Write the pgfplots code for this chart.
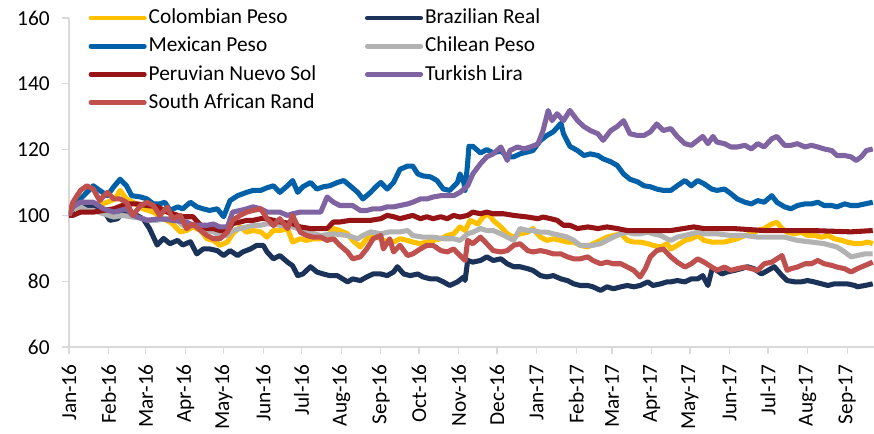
\documentclass[border=0pt]{standalone}
\usepackage{pgfplots}
\pgfplotsset{compat=1.18}
\usepackage{fontspec}
\setmainfont{Carlito}
\definecolor{cop}{HTML}{FFC000}
\definecolor{brl}{HTML}{1B3358}
\definecolor{mxn}{HTML}{0061A8}
\definecolor{clp}{HTML}{B2B2B2}
\definecolor{pen}{HTML}{961415}
\definecolor{try}{HTML}{8064A2}
\definecolor{zar}{HTML}{C0504D}
\definecolor{axgray}{HTML}{D9D9D9}
\begin{document}
\begin{tikzpicture}
\useasboundingbox (-51.75pt,-64.5pt) rectangle (603.75pt,260.25pt);
\begin{axis}[
  at={(0,0)}, anchor=south west,
  scale only axis, width=603.75pt, height=246.75pt,
  xmin=0, xmax=630, ymin=60, ymax=160,
  axis x line*=bottom, axis y line*=left,
  axis line style={axgray, line width=1pt, -},
  tick style={axgray, line width=1pt},
  tick align=outside, major tick length=5pt,
  xtick={0,31,60,91,121,152,182,213,244,274,305,335,366,397,425,456,486,517,547,578,609},
  xticklabels={Jan-16,Feb-16,Mar-16,Apr-16,May-16,Jun-16,Jul-16,Aug-16,Sep-16,Oct-16,Nov-16,Dec-16,Jan-17,Feb-17,Mar-17,Apr-17,May-17,Jun-17,Jul-17,Aug-17,Sep-17},
  ytick={60,80,100,120,140,160},
  /pgf/number format/assume math mode=true,
  tick label style={font=\fontsize{16}{19}\selectfont, text=black},
  xticklabel style={rotate=90, anchor=east, xshift=-4.5pt},
  yticklabel style={xshift=-6pt},
  legend columns=2,
  legend cell align=left,
  legend image code/.code={\draw[#1, line width=3.6pt, line cap=round] (0pt,0pt) -- (40pt,0pt);},
  legend style={draw=none, fill=none, inner sep=0pt,
    at={(0.024,1.036)}, anchor=north west,
    font=\fontsize{16}{19}\selectfont,
    nodes={inner sep=1.5pt, text height=11.5pt, text depth=3pt},
    row sep=3.6pt,
    /tikz/every even column/.append style={column sep=35pt}},
  every axis plot/.append style={line width=3.8pt, line join=round, no marks},
]
\addplot[cop] coordinates {(0,100)(3,102)(14,102.5)(22,103)(30,104)(36,105)(40,107.6)(45,105)(50,104)(58,102)(66,101)(74,99)(81,97.5)(87,95)(92,95.4)(97,96.5)(103,95.4)(108,92.9)(113,92.4)(118,90.9)(124,91.9)(128,94.4)(134,96.5)(139,94.9)(144,95.4)(150,95)(155,93.4)(160,95.4)(165,95.4)(171,96)(175,91.9)(181,92.9)(186,92.4)(191,92.9)(197,92.9)(202,93.4)(207,96)(212,95.4)(218,94.4)(222,92.4)(228,90.4)(233,92.9)(238,93.9)(244,92.9)(249,91.9)(254,91.9)(259,92.9)(265,92.4)(269,91.9)(275,91.4)(280,91.9)(285,92.4)(291,92.9)(296,93.9)(301,94.4)(306,96.5)(310,95.4)(314,98.5)(320,97.4)(324,99.5)(328,100.5)(332,98.5)(338,96.5)(343,94.4)(348,93.4)(353,94.4)(359,94.9)(363,96)(369,93.4)(374,92.4)(379,92.9)(385,92.4)(390,91.9)(395,91.9)(400,90.9)(406,90.4)(410,91.4)(416,92.4)(421,93.4)(426,93.9)(432,94.4)(437,92.4)(442,91.9)(447,91.9)(453,91.4)(457,90.9)(463,90.4)(468,91.4)(471,89.8)(476,90.9)(482,92.4)(487,92.9)(492,93.9)(497,92.4)(503,91.9)(507,91.9)(513,91.9)(518,92.4)(523,92.9)(529,93.9)(534,94.4)(539,95.4)(544,96)(550,97.4)(554,97.9)(558,96)(562,94.9)(568,94.4)(573,94.9)(578,93.9)(583,93.9)(589,93.4)(594,93.9)(599,92.9)(605,92.4)(609,91.9)(615,91.4)(620,91.4)(625,91.9)(629,91.4)};
\addlegendentry{Colombian Peso}
\addplot[brl] coordinates {(0,100)(3,102)(9,103.5)(14,103)(19,102.6)(27,101.5)(32,98.5)(38,99)(42,101)(48,101)(53,100)(58,99)(63,96)(69,91)(74,93)(79,91.4)(85,92.4)(89,91)(95,92)(100,88.3)(105,89.8)(110,89.8)(116,89.3)(121,87.8)(126,89.3)(132,87.8)(136,88.9)(142,89.8)(147,90.9)(152,90.9)(155,88.9)(160,86.8)(165,87.8)(171,85.8)(175,84.7)(179,81.7)(183,82.2)(189,84.4)(194,82.8)(199,82.2)(204,81.7)(210,81.7)(218,79.8)(222,80.7)(228,80.2)(233,81.3)(238,82.2)(244,82.2)(249,81.7)(254,82.8)(257,84.4)(262,82.2)(267,81.7)(273,82.2)(277,81.3)(283,80.7)(288,80.7)(293,79.8)(298,78.7)(304,79.8)(309,81.3)(310,80.2)(312,86.3)(316,85.8)(322,86.3)(327,87.4)(332,86.3)(338,86.8)(343,85.3)(348,84.4)(353,84.4)(359,83.8)(363,83.3)(369,81.7)(374,81.3)(379,81.7)(385,80.7)(390,80.2)(395,79.2)(400,78.7)(406,78.7)(410,78.3)(416,77.2)(421,78.3)(426,77.7)(432,78.3)(437,78.7)(442,78.3)(447,78.7)(453,79.8)(457,78.7)(463,79.2)(468,79.8)(471,79.8)(476,80.2)(482,79.8)(487,80.7)(492,80.7)(496,81.7)(500,78.7)(503,83.3)(505,83.8)(511,82.2)(515,82.8)(521,83.3)(526,83.8)(531,84.4)(536,83.8)(542,82.2)(547,83.3)(552,84.4)(558,81.7)(562,80.2)(568,79.8)(573,79.8)(578,80.2)(583,79.8)(589,79.2)(594,78.7)(599,79.2)(605,79.2)(609,79.2)(615,78.7)(617,78.3)(623,78.7)(629,79.2)};
\addlegendentry{Brazilian Real}
\addplot[mxn] coordinates {(0,100)(9,105)(19,109)(24,107.6)(30,106)(35,108.7)(40,111)(45,109)(49,106)(56,105.6)(61,105)(66,103.5)(71,103.5)(75,104)(79,101.5)(85,102.6)(89,102)(95,104)(100,102.6)(105,102)(110,101.5)(116,102)(121,99.6)(126,104.5)(132,106)(139,107)(144,107.6)(150,107.6)(155,108.4)(160,109)(165,107)(171,109)(175,110.6)(179,107)(183,108.7)(189,110)(194,108)(199,108.7)(204,109)(210,110)(215,110.6)(220,109)(226,107)(230,105)(236,107)(241,109)(244,110)(249,108)(254,110)(259,114)(265,115)(269,115)(273,112.6)(277,112)(283,111.7)(288,110.6)(293,108)(298,107.6)(304,110)(306,112.6)(309,110)(310,107.6)(312,116)(313,121)(316,121)(322,119)(327,120)(332,119)(338,119.6)(343,117.8)(348,117.8)(353,118.7)(359,119.3)(363,119.7)(369,122.8)(374,124.3)(379,125.4)(385,128)(387,124.8)(392,121)(398,119.7)(403,118.2)(408,118.7)(414,118.2)(418,117.2)(424,116.3)(429,115.2)(434,112.6)(439,111)(445,110.2)(450,109)(455,108.7)(460,108)(465,107.6)(471,107.6)(476,109)(482,110.6)(487,109)(492,110.6)(497,109.6)(503,108)(507,107.6)(513,108)(518,106.6)(523,105)(529,104)(534,103.5)(539,104.5)(544,104)(550,106)(554,104)(560,102.6)(565,102)(570,103)(576,103.5)(581,103.5)(586,104)(591,103)(597,103)(601,102.6)(607,103.5)(612,103)(617,103)(623,103.5)(629,104)};
\addlegendentry{Mexican Peso}
\addplot[clp] coordinates {(0,100)(3,102)(9,102.6)(14,101.5)(19,101.5)(27,100.5)(35,99.5)(42,100)(50,99.5)(58,99)(63,98.5)(69,98.5)(74,99)(79,99)(85,98.5)(89,97)(97,97)(103,96)(108,95.4)(113,95)(118,93.9)(124,93.9)(128,95.4)(134,96)(139,96.5)(144,97)(150,97)(155,97.5)(165,97)(175,96.5)(186,95)(197,93.9)(207,94.4)(218,93.9)(226,92.9)(230,93.9)(236,95)(244,94.4)(251,95)(259,95)(265,95.4)(269,93.9)(277,93.4)(285,93.4)(293,92.9)(301,92.9)(306,92.4)(312,94.4)(316,94.9)(322,96)(327,95.4)(332,95.4)(338,94.4)(343,93.4)(348,92.4)(353,96)(359,95.4)(363,95.4)(369,94.9)(374,94.9)(379,94.4)(385,93.9)(390,93.4)(395,92.4)(400,90.9)(406,90.9)(410,90.9)(416,91.4)(421,92.4)(426,93.4)(432,94.4)(437,94.9)(442,94.4)(447,94.4)(453,94.9)(457,94.4)(463,93.9)(468,92.9)(471,92.4)(476,93.4)(482,93.9)(487,94.4)(492,94.9)(497,94.4)(507,94.4)(518,93.9)(529,93.9)(539,93.4)(550,93.4)(560,93.4)(570,92.4)(581,91.9)(591,91.4)(601,90.4)(607,88.9)(612,87.4)(617,87.8)(623,88.3)(629,88.3)};
\addlegendentry{Chilean Peso}
\addplot[pen] coordinates {(0,100)(3,100)(9,101)(19,101)(27,101.5)(35,102)(45,103.5)(53,103.5)(61,103)(69,102.6)(77,101)(81,100.5)(89,99.6)(97,99.6)(103,97)(108,96)(113,96)(118,95.4)(124,95.4)(128,97.5)(134,98)(139,98.5)(144,98.5)(150,99)(155,99)(165,98)(175,97.5)(181,96.5)(189,96)(197,96)(202,96)(207,98)(212,98)(220,98.5)(228,98.5)(236,98.5)(244,99)(249,100)(254,99.6)(259,99)(265,99.6)(269,100)(275,99)(280,99.6)(285,99)(291,99.6)(296,99)(301,100)(306,99.5)(312,100)(316,101)(322,100.5)(327,101)(332,100.5)(340,100.5)(348,100)(359,99.5)(367,99)(371,99.5)(377,99)(382,98.5)(387,97)(392,97)(398,96)(406,96.5)(414,96)(421,96.5)(429,96)(437,95.4)(445,95.4)(453,95.4)(463,95.4)(471,95.4)(489,96.5)(497,96)(520,96)(544,95.4)(581,95.4)(612,95)(629,95.4)};
\addlegendentry{Peruvian Nuevo Sol}
\addplot[try] coordinates {(0,100)(3,102.6)(9,104)(14,104)(19,104)(27,102)(35,101)(40,101.5)(45,102)(50,100)(61,98.5)(71,99)(81,98.5)(92,98)(97,97)(103,97)(108,97)(113,97.4)(118,96.5)(124,96.5)(128,101)(134,101.5)(139,102)(144,102.6)(150,102)(155,101)(160,101)(165,101)(171,100)(175,100.5)(181,101)(186,101)(191,101)(197,101)(202,105.6)(207,104)(212,103)(218,103)(222,103)(228,101.5)(233,101.5)(238,102)(244,102)(249,102.6)(254,102.6)(259,103)(265,103.5)(269,104)(275,105)(280,105)(285,105.6)(291,106)(296,106)(301,106)(306,107)(312,109)(316,112.6)(322,115.7)(327,117.8)(332,118.7)(338,120.8)(343,116.7)(345,119.7)(351,120.8)(356,120.2)(361,120.8)(367,121.7)(371,125.8)(375,131.9)(378,128.8)(382,130.9)(387,128.8)(392,131.9)(398,128.8)(403,127)(408,125.8)(414,124.8)(418,122.8)(424,125.8)(429,127)(434,128.8)(439,124.8)(445,124.3)(450,124.3)(455,125.4)(460,127.8)(465,125.8)(471,126.4)(476,124)(482,121.8)(487,121.3)(492,122.8)(496,124)(500,121.8)(504,124)(507,122.3)(513,121.8)(518,120.8)(523,120.8)(529,121.3)(534,120.2)(539,121.8)(544,120.8)(550,123.3)(554,124)(560,121.3)(565,121.3)(570,121.8)(576,120.8)(581,121.3)(586,120.8)(591,120.2)(597,119.7)(601,118.2)(607,118.2)(612,117.8)(616,116.7)(620,117.8)(624,119.7)(629,120.2)};
\addlegendentry{Turkish Lira}
\addplot[zar] coordinates {(0,100)(3,104)(9,107.6)(14,109)(19,108)(24,104.5)(30,107)(35,105)(40,105)(45,104)(50,100)(56,103)(61,104)(66,103)(71,100)(77,102.5)(81,99)(87,100)(92,96)(97,97.4)(103,95.4)(108,93.9)(113,92.9)(118,92.9)(124,94.9)(128,98.5)(134,100)(139,101)(144,101.5)(150,102)(155,99)(160,96.9)(165,99)(171,96)(175,100)(181,94.9)(186,93.9)(191,93.4)(197,93.4)(202,92.4)(207,92.9)(212,90.9)(218,88.9)(222,86.8)(228,87.4)(233,89.8)(238,92.9)(244,93.9)(246,89.8)(251,92.9)(254,88.9)(259,90.9)(265,87.8)(269,88.3)(275,89.8)(280,90.9)(285,90.9)(291,89.3)(296,88.9)(301,89.8)(306,87.8)(310,86.3)(312,92.4)(316,91.4)(322,93.4)(327,91.4)(332,89.3)(338,88.9)(343,89.3)(348,90.9)(353,91.4)(359,89.3)(363,88.9)(369,89.3)(374,88.9)(379,88.3)(385,88.3)(390,87.4)(395,86.8)(400,86.8)(406,87.4)(410,86.3)(416,85.3)(421,85.8)(426,85.3)(432,85.3)(437,84.3)(442,83.3)(447,81.3)(451,83.8)(455,87.4)(460,89.3)(465,89.8)(471,87.4)(476,85.8)(482,84.3)(487,85.3)(492,86.8)(497,85.8)(503,84.3)(507,83.3)(513,84.3)(518,83.3)(523,83.8)(529,84.3)(534,83.8)(539,83.3)(544,85.3)(550,85.8)(554,86.8)(558,87.8)(562,83.3)(565,83.8)(570,84.3)(576,85.3)(581,85.3)(586,86.3)(591,85.3)(597,84.8)(601,84.3)(607,83.8)(612,82.8)(617,83.8)(623,84.8)(629,85.8)};
\addlegendentry{South African Rand}
\end{axis}
\end{tikzpicture}
\end{document}
